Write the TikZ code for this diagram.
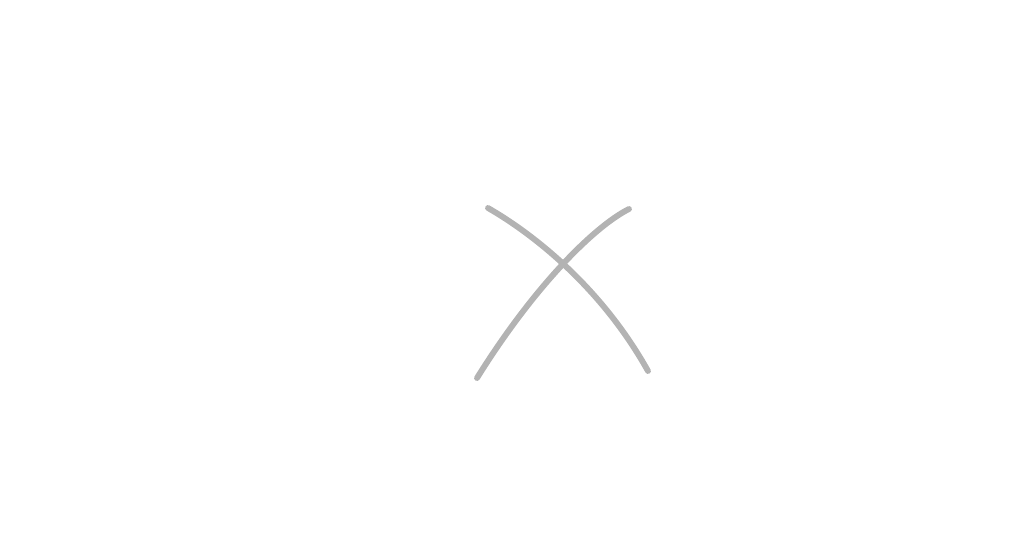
\documentclass[tikz,border=0pt]{standalone}
\usepackage{tikz}
\usepackage{xcolor}
\definecolor{xgray}{HTML}{B3B3B3}

\begin{document}
\begin{tikzpicture}[x=0.75pt, y=-0.75pt]
            \useasboundingbox (0,0) rectangle (1024,550);
            \tikzset{pen/.style={draw=xgray, line width=4.4pt, line cap=round}}
            \draw[pen] (488,208) .. controls (530,232) and (600,285) .. (648,371);
            \draw[pen] (629,209) .. controls (595,226) and (535,285) .. (477,378);
        \end{tikzpicture}
\end{document}
